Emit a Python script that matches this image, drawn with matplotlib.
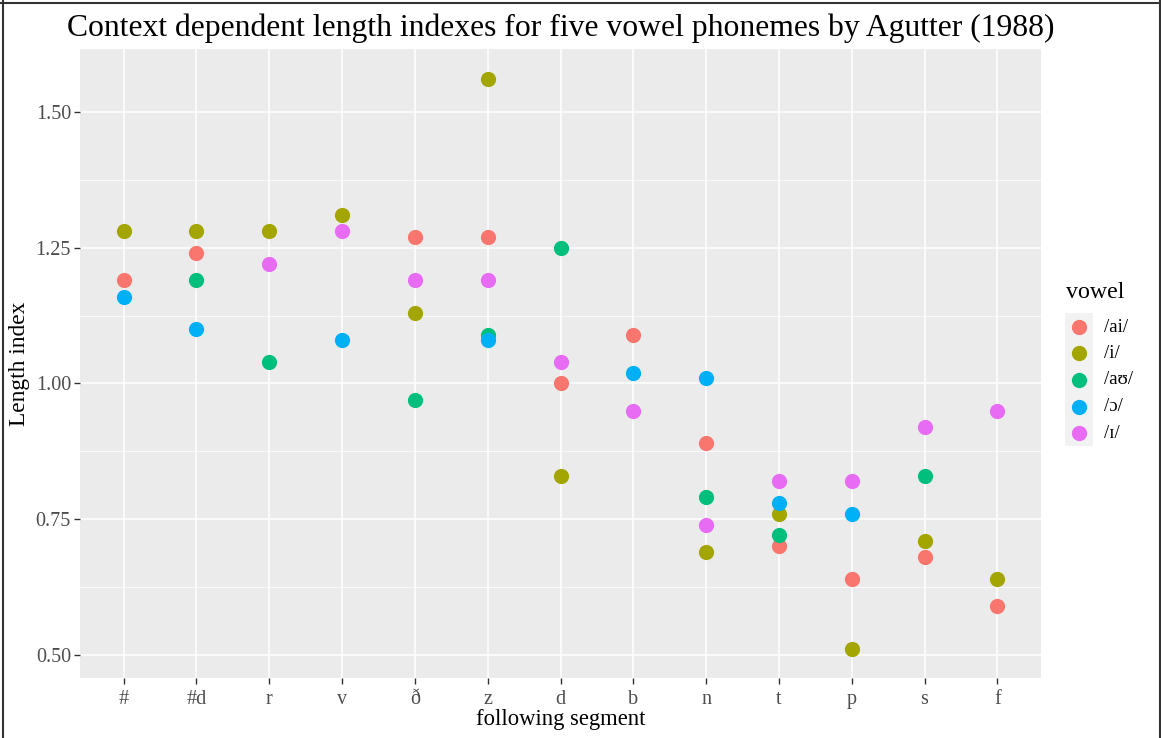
import numpy as np
import matplotlib
matplotlib.use("Agg")
import matplotlib.pyplot as plt
from matplotlib.patches import Rectangle
from matplotlib.lines import Line2D

segments = ["#", "#d", "r", "v", "ð", "z", "d", "b", "n", "t", "p", "s", "f"]
vowels = ["/ai/", "/i/", "/aʊ/", "/ɔ/", "/ɪ/"]
colors = ["#F8766D", "#A3A500", "#00BF7D", "#00B0F6", "#E76BF3"]
nan = np.nan
ai_vals = [1.19, 1.24, nan, nan, 1.27, 1.27, 1.00, 1.09, 0.89, 0.70, 0.64, 0.68, 0.59]
i_vals = [1.28, 1.28, 1.28, 1.31, 1.13, 1.56, 0.83, nan, 0.69, 0.76, 0.51, 0.71, 0.64]
au_vals = [nan, 1.19, 1.04, nan, 0.97, 1.09, 1.25, nan, 0.79, 0.72, nan, 0.83, nan]
o_vals = [1.16, 1.10, nan, 1.08, nan, 1.08, nan, 1.02, 1.01, 0.78, 0.76, nan, nan]
I_vals = [nan, nan, 1.22, 1.28, 1.19, 1.19, 1.04, 0.95, 0.74, 0.82, 0.82, 0.92, 0.95]
series = [ai_vals, i_vals, au_vals, o_vals, I_vals]
y_ticks = [0.50, 0.75, 1.00, 1.25, 1.50]

plt.rcParams['font.family'] = ['Liberation Serif', 'DejaVu Serif']

fig = plt.figure(figsize=(11.61, 7.38), dpi=100)
W, H = 1161, 738
ax = fig.add_axes([80 / W, 1 - 678 / H, (1041 - 80) / W, (678 - 49) / H])
ax.set_facecolor("#EBEBEB")
for s in ax.spines.values():
    s.set_visible(False)

x = np.arange(len(segments))
for vals, col, lab in zip(series, colors, vowels):
    v = np.array(vals, dtype=float)
    m = ~np.isnan(v)
    ax.scatter(x[m], v[m], s=120, color=col, label=lab, zorder=3, linewidths=0)

ax.set_xlim(-0.6, len(segments) - 0.4)
ax.set_ylim(0.4575, 1.6158)
ax.set_xticks(x)
ax.set_xticklabels(segments)
ax.set_yticks(y_ticks)
ax.set_yticklabels([f"{t:.2f}" for t in y_ticks])
ax.set_yticks([0.625, 0.875, 1.125, 1.375], minor=True)
ax.grid(True, which="major", color="white", linewidth=1.1, zorder=0)
ax.grid(True, which="minor", axis="y", color="white", linewidth=0.55, zorder=0)
ax.set_axisbelow(True)
ax.tick_params(which="major", length=4, width=1, color="#333333", labelcolor="#4D4D4D",
               labelsize=14.5, pad=2.5)
ax.tick_params(axis="x", which="major", pad=4.5)
ax.tick_params(which="minor", length=0)

# axis titles and main title
fig.text(561 / W, 1 - 719 / H, "following segment", ha="center", va="center", fontsize=16.3)
fig.text(20 / W, 1 - 364 / H, "Length index", ha="center", va="center", rotation=90, fontsize=16.8)
fig.text(561 / W, 1 - 28 / H, "Context dependent length indexes for five vowel phonemes by Agutter (1988)",
         ha="center", va="center", fontsize=22.8, color="black")

# legend
fig.text(1066 / W, 1 - 293 / H, "vowel", ha="left", va="center", fontsize=17.2)
fig.patches.append(Rectangle((1065 / W, 1 - 446 / H), 28 / W, 133 / H,
                             transform=fig.transFigure, facecolor="#F2F2F2", edgecolor="none"))
key_y = [327, 353, 380, 407, 433]
for ky, c, lab in zip(key_y, colors, vowels):
    fig.add_artist(Line2D([1079 / W], [1 - ky / H], transform=fig.transFigure, marker="o",
                          linestyle="none", markersize=11, markerfacecolor=c, markeredgewidth=0))
    fig.text(1104 / W, 1 - ky / H, lab, ha="left", va="center", fontsize=13.5, color="black")

# outer border
for (x0, y0, x1, y1) in [(2.5, 0, 2.5, H), (0, H - 2.5, W, H - 2.5), (W - 1.5, 0, W - 1.5, H)]:
    fig.add_artist(Line2D([x0 / W, x1 / W], [y0 / H, y1 / H], transform=fig.transFigure,
                          color="#333333", linewidth=1.5))

fig.savefig("out.png", dpi=100)
